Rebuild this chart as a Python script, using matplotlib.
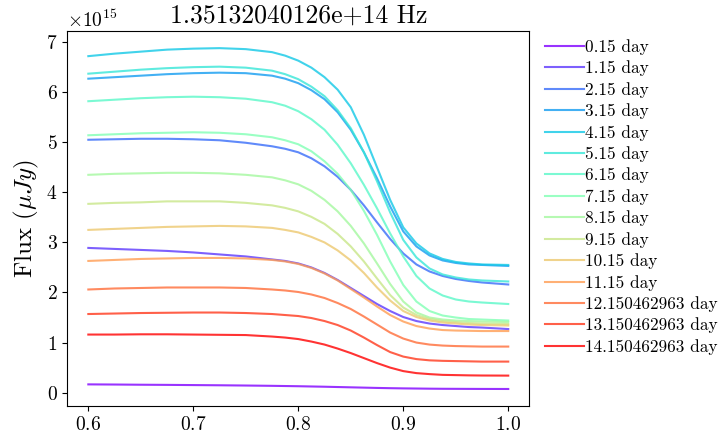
import numpy as np
import matplotlib
matplotlib.use("Agg")
import matplotlib.pyplot as plt

plt.rcParams['font.family'] = 'serif'
plt.rcParams['font.serif'] = ['cmr10']
plt.rcParams['mathtext.fontset'] = 'cm'
plt.rcParams['axes.unicode_minus'] = False
plt.rcParams['axes.formatter.use_mathtext'] = True

freq = "1.35132040126e+14 Hz"

# time since burst (days) for each light curve
days = ["0.15", "1.15", "2.15", "3.15", "4.15", "5.15", "6.15", "7.15",
        "8.15", "9.15", "10.15", "11.15", "12.150462963", "13.150462963",
        "14.150462963"]

x = [0.6, 0.625, 0.65, 0.675, 0.7, 0.725, 0.75, 0.775, 0.7875, 0.8,
     0.8125, 0.825, 0.8375, 0.85, 0.8625, 0.875, 0.8875, 0.9, 0.9125,
     0.925, 0.9375, 0.95, 0.9625, 0.975, 1.0]

# flux in units of 1e15 uJy
f00 = [0.165, 0.162, 0.158, 0.155, 0.151, 0.147, 0.142, 0.136, 0.132, 0.128,
       0.123, 0.118, 0.112, 0.106, 0.100, 0.094, 0.089, 0.085, 0.082,
       0.079, 0.077, 0.076, 0.075, 0.074, 0.073]
f01 = [2.89, 2.87, 2.85, 2.83, 2.80, 2.76, 2.72, 2.66, 2.63, 2.58,
       2.50, 2.39, 2.25, 2.09, 1.93, 1.77, 1.63, 1.51, 1.43,
       1.38, 1.35, 1.33, 1.31, 1.30, 1.27]
f02 = [5.05, 5.06, 5.07, 5.07, 5.06, 5.04, 4.99, 4.92, 4.87, 4.80,
       4.68, 4.52, 4.31, 4.05, 3.74, 3.40, 3.07, 2.78, 2.56,
       2.42, 2.33, 2.27, 2.23, 2.20, 2.16]
f03 = [6.27, 6.30, 6.33, 6.36, 6.38, 6.39, 6.38, 6.33, 6.27, 6.18,
       6.04, 5.86, 5.60, 5.25, 4.80, 4.28, 3.72, 3.22, 2.92,
       2.74, 2.64, 2.59, 2.56, 2.55, 2.53]
f04 = [6.72, 6.77, 6.81, 6.85, 6.87, 6.88, 6.86, 6.80, 6.73, 6.63,
       6.49, 6.30, 6.05, 5.70, 5.15, 4.50, 3.85, 3.30, 2.98,
       2.78, 2.67, 2.61, 2.58, 2.56, 2.55]
f05 = [6.37, 6.41, 6.45, 6.48, 6.50, 6.51, 6.49, 6.43, 6.36, 6.26,
       6.11, 5.92, 5.64, 5.28, 4.80, 4.22, 3.60, 3.05, 2.70,
       2.48, 2.36, 2.30, 2.26, 2.24, 2.22]
f06 = [5.82, 5.85, 5.88, 5.90, 5.91, 5.90, 5.87, 5.80, 5.73, 5.62,
       5.46, 5.25, 4.95, 4.58, 4.15, 3.68, 3.18, 2.72, 2.33,
       2.08, 1.94, 1.86, 1.82, 1.80, 1.77]
f07 = [5.14, 5.16, 5.18, 5.19, 5.20, 5.19, 5.16, 5.10, 5.04, 4.96,
       4.82, 4.62, 4.37, 4.05, 3.63, 3.15, 2.62, 2.15, 1.82,
       1.63, 1.54, 1.50, 1.47, 1.46, 1.44]
f08 = [4.35, 4.37, 4.38, 4.39, 4.39, 4.38, 4.35, 4.30, 4.24, 4.16,
       4.03, 3.85, 3.62, 3.33, 2.98, 2.58, 2.17, 1.82, 1.60,
       1.50, 1.46, 1.44, 1.43, 1.42, 1.41]
f09 = [3.77, 3.79, 3.80, 3.82, 3.82, 3.82, 3.79, 3.74, 3.69, 3.62,
       3.51, 3.37, 3.17, 2.92, 2.62, 2.28, 1.95, 1.70, 1.55,
       1.47, 1.43, 1.41, 1.39, 1.38, 1.37]
f10 = [3.25, 3.27, 3.29, 3.31, 3.32, 3.33, 3.32, 3.29, 3.25, 3.20,
       3.11, 3.00, 2.84, 2.64, 2.39, 2.10, 1.84, 1.63, 1.51,
       1.44, 1.40, 1.38, 1.36, 1.35, 1.34]
f11 = [2.63, 2.65, 2.67, 2.68, 2.69, 2.69, 2.68, 2.65, 2.62, 2.57,
       2.49, 2.38, 2.24, 2.07, 1.90, 1.72, 1.55, 1.42, 1.33,
       1.28, 1.25, 1.24, 1.235, 1.23, 1.23]
f12 = [2.06, 2.08, 2.09, 2.10, 2.10, 2.10, 2.09, 2.06, 2.04, 2.01,
       1.96, 1.89, 1.79, 1.67, 1.52, 1.36, 1.20, 1.08, 1.00,
       0.96, 0.94, 0.93, 0.925, 0.92, 0.92]
f13 = [1.57, 1.58, 1.59, 1.595, 1.60, 1.60, 1.59, 1.57, 1.55, 1.53,
       1.49, 1.43, 1.35, 1.24, 1.10, 0.95, 0.81, 0.72, 0.67,
       0.645, 0.635, 0.63, 0.625, 0.62, 0.62]
f14 = [1.16, 1.16, 1.165, 1.165, 1.16, 1.155, 1.15, 1.12, 1.10, 1.07,
       1.02, 0.96, 0.88, 0.79, 0.69, 0.59, 0.50, 0.43, 0.39,
       0.37, 0.355, 0.35, 0.345, 0.342, 0.34]

curves = [f00, f01, f02, f03, f04, f05, f06, f07, f08, f09, f10, f11, f12, f13, f14]
colors = plt.cm.rainbow(np.linspace(0, 1, len(curves)))

fig = plt.figure(figsize=(7.24, 4.38), dpi=100)
ax = fig.add_axes([0.093, 0.073, 0.638, 0.856])

for i, f in enumerate(curves):
    ax.plot(x, np.array(f) * 1e15, color=colors[i], alpha=0.8, lw=1.5,
            label=days[i] + " day")

ax.set_title(freq, fontsize=18.5)
ax.set_ylabel(r"Flux ($\mu Jy$)", fontsize=18)
ax.tick_params(labelsize=14)
ax.yaxis.get_offset_text().set_fontsize(14)
ax.set_xticks([0.6, 0.7, 0.8, 0.9, 1.0])
ax.legend(loc='upper left', bbox_to_anchor=(1.0, 1.02), frameon=False,
          fontsize=12.4, handlelength=2.3, handletextpad=0.05, labelspacing=0.325)

fig.savefig("out.png", dpi=100)
